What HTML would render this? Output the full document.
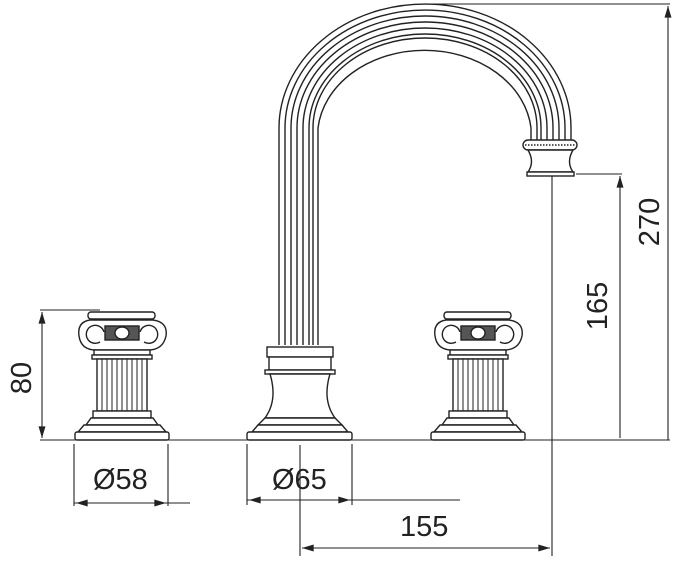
<!DOCTYPE html>
<html><head><style>body{margin:0;background:#fff}svg{display:block}</style></head><body>
<svg width="680" height="568" viewBox="0 0 680 568" xmlns="http://www.w3.org/2000/svg" font-family="Liberation Sans, sans-serif">
<defs>
<marker id="a" viewBox="0 0 10 6" refX="10" refY="3" markerWidth="16" markerHeight="7" orient="auto-start-reverse" markerUnits="userSpaceOnUse"><path d="M0,0L10,3L0,6z" fill="#222"/></marker>
<g id="h" fill="#fff" stroke="#222" stroke-width="1.4">
<rect x="88" y="312" width="67" height="7" rx="3"/>
<path d="M90,320 H153 Q168,322 166,336 Q163,350 148,350 L96,350 Q81,350 79,336 Q77,322 90,320z"/>
<path d="M100,342 A9,9 0 1 1 104,332" fill="none"/><path d="M144,342 A9,9 0 1 0 140,332" fill="none"/>
<rect x="105" y="326" width="34" height="14" fill="#555"/>
<ellipse cx="122" cy="333" rx="7" ry="6" fill="#fff"/>
<rect x="94" y="350" width="56" height="5"/><rect x="92" y="355" width="60" height="4"/>
<rect x="97" y="359" width="50" height="52"/>
<path d="M102,359V411M107,359V411M112,359V411M117,359V411M122,359V411M127,359V411M132,359V411M137,359V411M142,359V411" stroke-width="1"/>
<rect x="93" y="411" width="58" height="7"/>
<path d="M91,418 H153 L158,425 H86z"/>
<path d="M84,425 H160 L166,432 H78z"/>
<rect x="75" y="432" width="94" height="8" rx="2"/>
</g>
</defs>
<g fill="none" stroke="#222" stroke-width="1.4">
<path d="M279,345 V128 A146,124 0 0 1 571,128 V140"/>
<path d="M285,345 V128 A140,118 0 0 1 565,128 V140"/>
<path d="M291,345 V128 A134,112 0 0 1 559,128 V140"/>
<path d="M297,345 V128 A128,106 0 0 1 553,128 V140"/>
<path d="M303,345 V128 A122,100 0 0 1 547,128 V140"/>
<path d="M309,345 V128 A116,94 0 0 1 541,128 V140"/>
<path d="M313,345 V128 A112,90 0 0 1 537,128 V140"/>
<path d="M318,345 V128 A107,86 0 0 1 531,128 V140"/>
</g>
<g fill="#fff" stroke="#222" stroke-width="1.4">
<rect x="523" y="140" width="54" height="10" rx="5"/>
<path d="M525,145H575" stroke-dasharray="1.5 1.5"/>
<path d="M528,150 H573 Q566,162 573,172 H528 Q535,162 528,150z"/>
<rect x="527" y="172" width="47" height="4"/>
<rect x="267" y="347" width="66" height="10"/>
<rect x="269" y="357" width="62" height="13"/>
<rect x="265" y="370" width="70" height="4"/>
<path d="M270,374 H330 Q322,400 335,418 H265 Q278,400 270,374z"/>
<path d="M265,418 H335 L342,425 H258z"/>
<path d="M258,425 H342 L348,432 H252z"/>
<rect x="247" y="432" width="105" height="8" rx="2"/>
</g>
<use href="#h"/>
<use href="#h" transform="translate(356,0)"/>
<g stroke="#222" stroke-width="1.1" fill="none">
<path d="M40,440H560"/>
<path d="M40,310H100"/>
<path d="M42,312V438" marker-start="url(#a)" marker-end="url(#a)"/>
<path d="M74,444V506M168,444V506"/>
<path d="M76,503H190" marker-start="url(#a)"/><path d="M74,503H166" marker-end="url(#a)"/>
<path d="M247,444V505M352,444V505"/>
<path d="M249,500H460" marker-start="url(#a)"/><path d="M247,500H350" marker-end="url(#a)"/>
<path d="M300,445V556"/>
<path d="M552,176V556"/>
<path d="M302,548H550" marker-start="url(#a)" marker-end="url(#a)"/>
<path d="M576,174H622"/>
<path d="M620,176V438" marker-start="url(#a)"/>
<path d="M425,4H670"/>
<path d="M668,6V440" marker-start="url(#a)"/>
<path d="M560,440H670"/>
</g>
<g fill="#222" font-size="29">
<text x="93" y="489">Ø58</text>
<text x="272" y="489">Ø65</text>
<text x="400" y="536">155</text>
<text transform="translate(31,378) rotate(-90)" text-anchor="middle">80</text>
<text transform="translate(607,306) rotate(-90)" text-anchor="middle">165</text>
<text transform="translate(659,222) rotate(-90)" text-anchor="middle">270</text>
</g>
</svg>
</body></html>
